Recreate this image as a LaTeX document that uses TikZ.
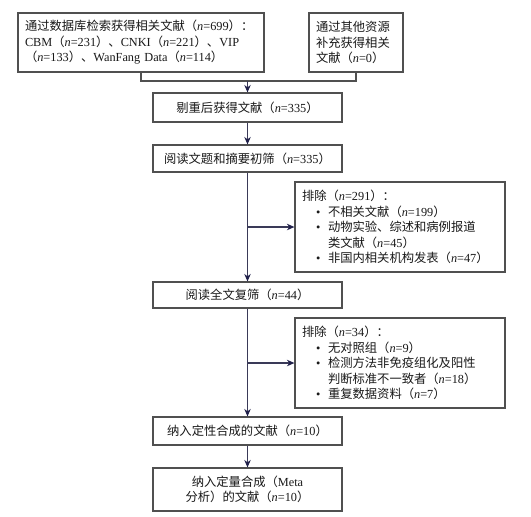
\documentclass[tikz,border=0pt]{standalone}
\usepackage{fontspec}
\setmainfont{Liberation Serif}
\newfontfamily\cjk{Noto Sans CJK SC}
\usetikzlibrary{arrows.meta}
\newcommand\zh[1]{{\cjk #1}}
\XeTeXlinebreaklocale "zh"
\XeTeXlinebreakskip=0pt plus 1pt
\definecolor{boxline}{HTML}{505050}
\definecolor{connline}{HTML}{3A3A58}
\definecolor{tipcol}{HTML}{20204A}
\tikzset{
  box/.style={draw=boxline, line width=1.2pt, inner sep=0pt, text=black!90,
    font=\fontsize{12.3}{15.5}\selectfont},
  conn/.style={draw=connline, line width=1.1pt},
  arr/.style={conn, -{Stealth[length=7.5pt,width=6.5pt,inset=2.5pt,color=tipcol]}},
}
\begin{document}
\begin{tikzpicture}[x=1pt,y=-1pt]
\useasboundingbox (0,0) rectangle (531,517);
\fill[white] (0,0) rectangle (531,517);
% top boxes
\node[box, minimum width=246, minimum height=59, align=left, text width=232] (b1) at (141,42.5)
 {\makebox[232pt][s]{\zh{通过数据库检索获得相关文献（}\textit{n}=699\zh{）：}}\\
  \makebox[232pt][s]{CBM\zh{（}\textit{n}=231\zh{）、}CNKI\zh{（}\textit{n}=221\zh{）、}VIP}\\
  \zh{（}\textit{n}=133\zh{）、}WanFang Data\zh{（}\textit{n}=114\zh{）}};
\node[box, minimum width=94, minimum height=59, align=left, text width=80] (b2) at (356,42.5)
 {\zh{通过其他资源}\\\zh{补充获得相关}\\\zh{文献（}\textit{n}=0\zh{）}};
\node[box, minimum width=189, minimum height=29, align=center] (b3) at (247.5,107.5)
 {\zh{剔重后获得文献（}\textit{n}=335\zh{）}};
\node[box, minimum width=189, minimum height=27, align=center] (b4) at (247.5,158.5)
 {\zh{阅读文题和摘要初筛（}\textit{n}=335\zh{）}};
\node[box, minimum width=210, minimum height=90, align=left, text width=196] (e1) at (400,227)
 {\zh{排除（}\textit{n}=291\zh{）：}\\
  \hspace*{14pt}\makebox[12pt][l]{•}\zh{不相关文献（}\textit{n}=199\zh{）}\\
  \hspace*{14pt}\makebox[12pt][l]{•}\zh{动物实验、综述和病例报道}\\
  \hspace*{26pt}\zh{类文献（}\textit{n}=45\zh{）}\\
  \hspace*{14pt}\makebox[12pt][l]{•}\zh{非国内相关机构发表（}\textit{n}=47\zh{）}};
\node[box, minimum width=189, minimum height=26, align=center] (b5) at (247.5,295)
 {\zh{阅读全文复筛（}\textit{n}=44\zh{）}};
\node[box, minimum width=210, minimum height=90, align=left, text width=196] (e2) at (400,363)
 {\zh{排除（}\textit{n}=34\zh{）：}\\
  \hspace*{14pt}\makebox[12pt][l]{•}\zh{无对照组（}\textit{n}=9\zh{）}\\
  \hspace*{14pt}\makebox[12pt][l]{•}\zh{检测方法非免疫组化及阳性}\\
  \hspace*{26pt}\zh{判断标准不一致者（}\textit{n}=18\zh{）}\\
  \hspace*{14pt}\makebox[12pt][l]{•}\zh{重复数据资料（}\textit{n}=7\zh{）}};
\node[box, minimum width=189, minimum height=28, align=center] (b6) at (247.5,431)
 {\zh{纳入定性合成的文献（}\textit{n}=10\zh{）}};
\node[box, minimum width=189, minimum height=43, align=center] (b7) at (247.5,489.5)
 {\zh{纳入定量合成（}Meta\\\zh{分析）的文献（}\textit{n}=10\zh{）}};
% connectors
\coordinate (m) at (247.5,81);
\draw[conn, draw=boxline] (b1.south) |- (m) -| (b2.south);
\draw[arr] (m) -- (b3.north);
\draw[arr] (b3.south) -- (b4.north);
\draw[arr] (b4.south) -- (b5.north);
\coordinate (j1) at (b4.south |- e1.west);
\draw[arr] (j1) -- (e1.west);
\draw[arr] (b5.south) -- (b6.north);
\coordinate (j2) at (b5.south |- e2.west);
\draw[arr] (j2) -- (e2.west);
\draw[arr] (b6.south) -- (b7.north);
\end{tikzpicture}
\end{document}
